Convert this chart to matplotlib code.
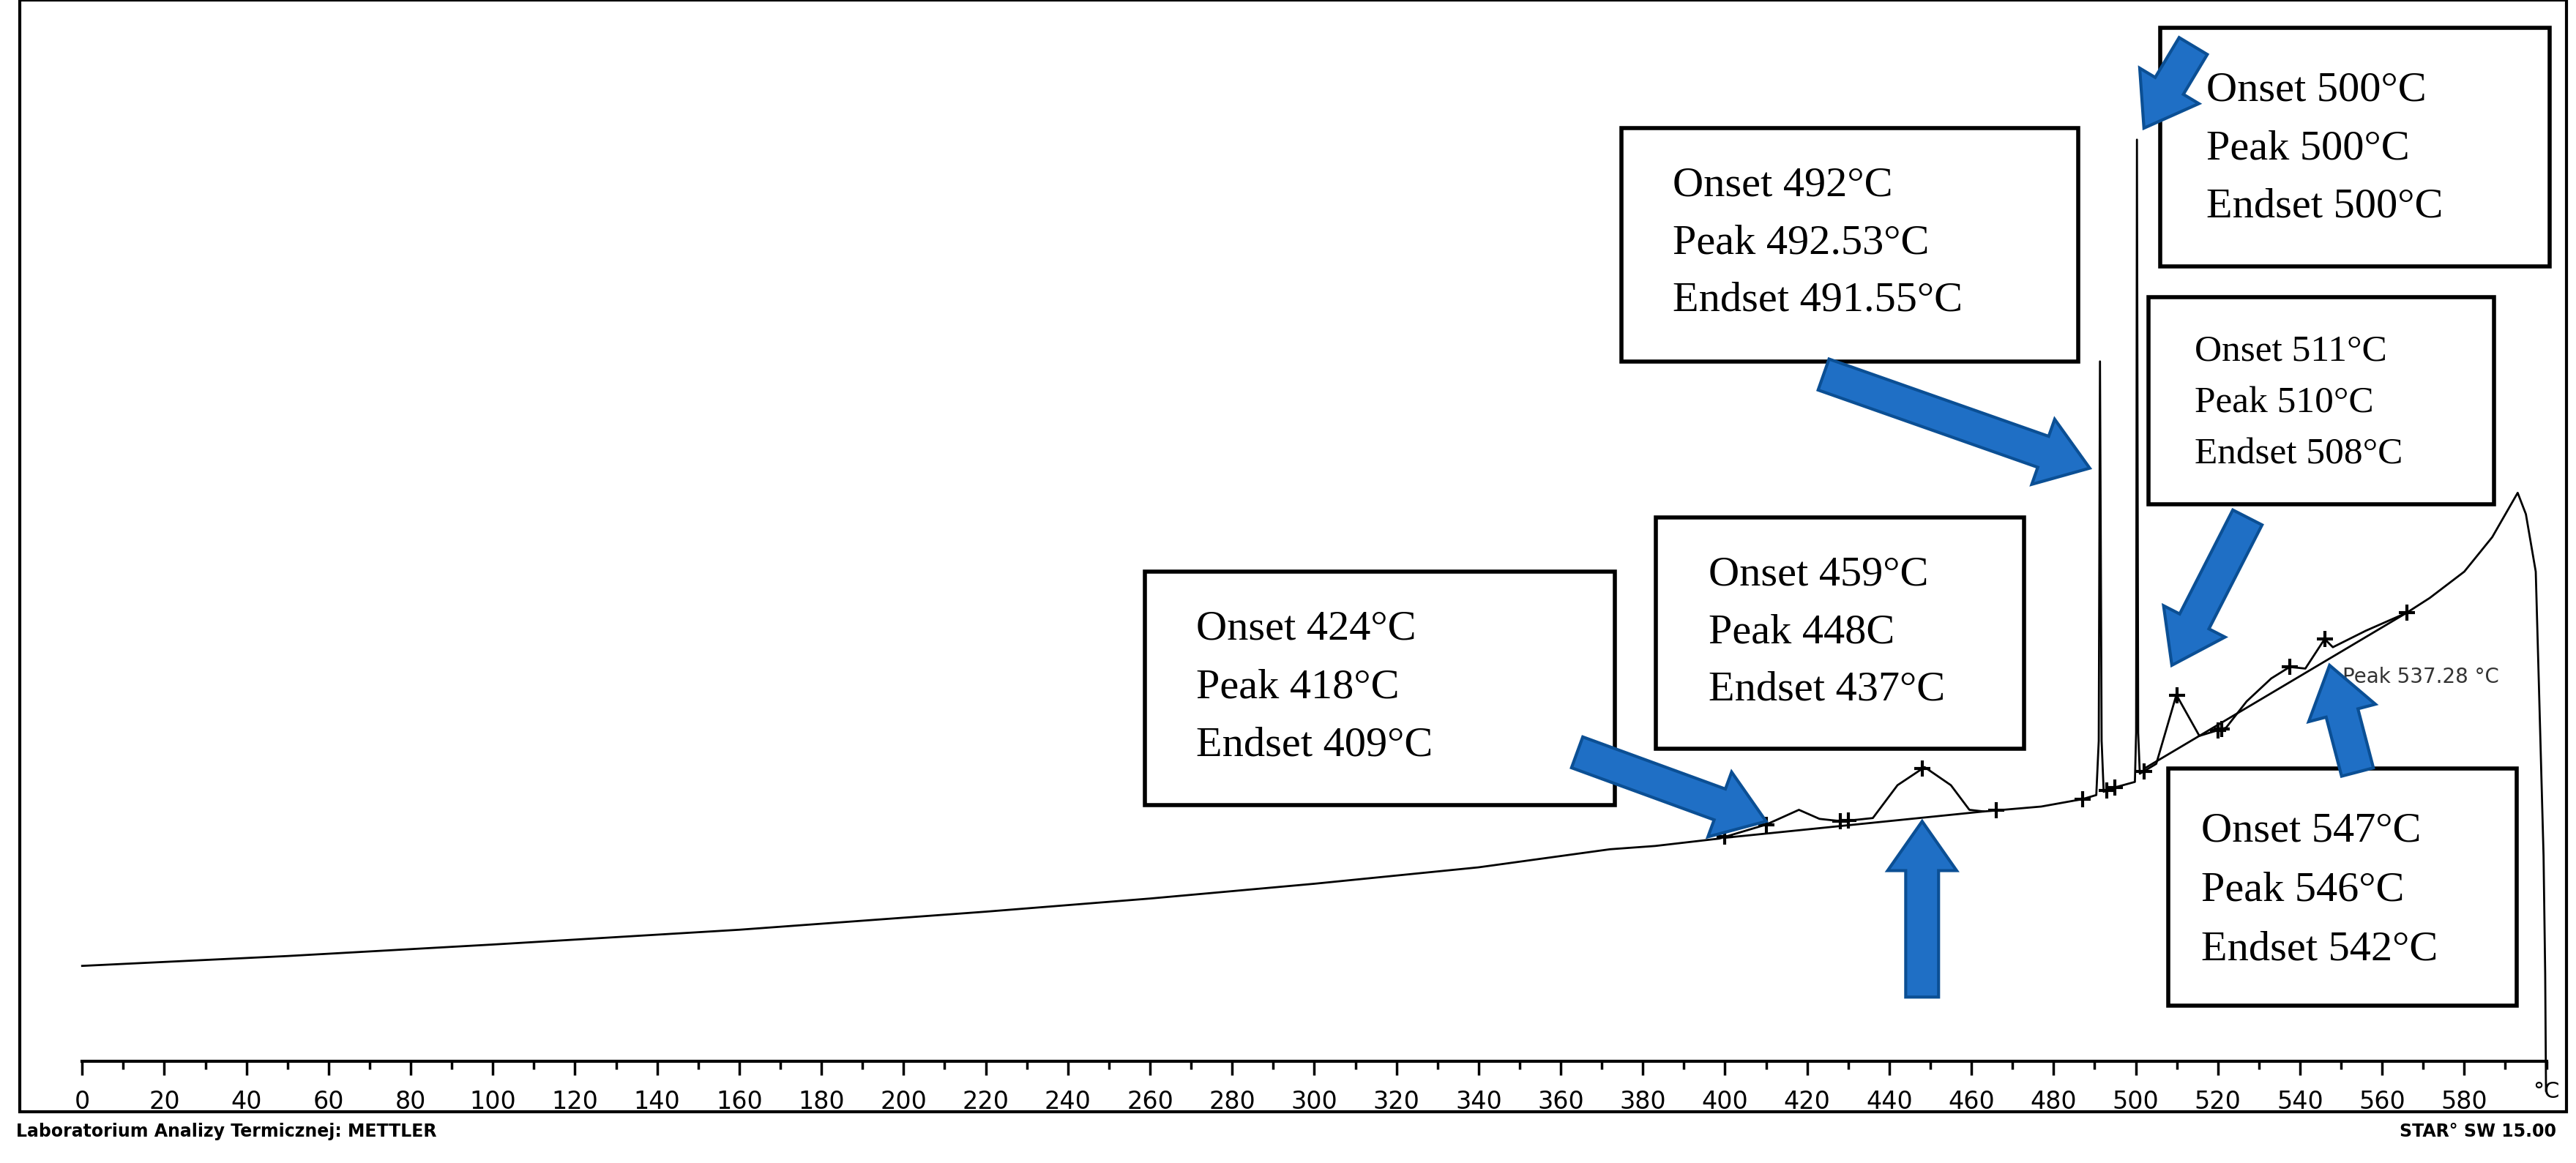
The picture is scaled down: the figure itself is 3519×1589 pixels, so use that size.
import numpy as np
import matplotlib
matplotlib.use("Agg")
import matplotlib.pyplot as plt
from matplotlib.patches import Rectangle, FancyArrow

# ---------------------------------------------------------------- data
temp_C = [0, 50, 100, 160, 220, 260, 300, 340, 372, 383, 398.6, 410, 418, 423,
          428.5, 436, 442, 448.6, 455, 459.5, 463, 477, 487, 490.4, 491.0, 491.3,
          491.7, 492.2, 494, 499.8, 500.1, 500.3, 500.6, 501.0, 503, 505, 509.9, 515.5,
          522, 527, 533, 537.5, 541.3, 546, 548, 556, 566, 571.6, 580, 586.8, 593,
          595, 597.4, 598.2, 599.3, 599.7, 599.9]
heat_flow = [58, 64, 71, 80, 91, 99, 108, 118, 129, 131, 135.5, 144, 153, 147.5,
             146, 148, 168, 179, 168, 153, 152, 155, 159.5, 162, 195, 426,
             195, 164, 166, 170, 200, 561, 200, 175, 178, 181, 223, 198,
             203, 219, 233, 240, 239, 257, 252, 262, 273, 282, 298, 319, 346,
             333, 298, 226, 125, 53, -18]
base1_T = [400, 463]
base1_h = [136, 152]
base2_T = [502, 566]
base2_h = [178, 273]
mark_T = [400, 410, 428, 430, 448, 466, 487, 493, 495, 502, 510, 520, 521,
          537.5, 546, 566]

box_texts = [
    ["Onset 424°C", "Peak 418°C", "Endset 409°C"],
    ["Onset 459°C", "Peak 448C", "Endset 437°C"],
    ["Onset 492°C", "Peak 492.53°C", "Endset 491.55°C"],
    ["Onset 500°C", "Peak 500°C", "Endset 500°C"],
    ["Onset 511°C", "Peak 510°C", "Endset 508°C"],
    ["Onset 547°C", "Peak 546°C", "Endset 542°C"],
]

# ---------------------------------------------------------------- figure
fig = plt.figure(figsize=(35.19, 15.89), dpi=100)
W, H = 1568, 708  # layout grid (reference-scaled)

ax = fig.add_axes([12 / W, 1 - 677 / H, 1550 / W, 677 / H])
ax.set_xlim(-15.2, 604.8)
ax.set_ylim(-31, 646)
ax.plot(temp_C, heat_flow, color="black", lw=2)
ax.plot(base1_T, base1_h, color="black", lw=2)
ax.plot(base2_T, base2_h, color="black", lw=2)
ax.plot(mark_T, np.interp(mark_T, temp_C, heat_flow), "k+", ms=16, mew=3)

for s in ["top", "left", "right"]:
    ax.spines[s].set_visible(False)
ax.spines["bottom"].set_position(("data", 0))
ax.spines["bottom"].set_bounds(0, 600)
ax.spines["bottom"].set_linewidth(3)
ax.set_yticks([])
ax.set_xticks(np.arange(0, 581, 20))
ax.set_xticks(np.arange(0, 601, 10), minor=True)
ax.tick_params(axis="x", which="major", length=14, width=2.5, labelsize=24, pad=14)
ax.tick_params(axis="x", which="minor", length=8, width=2.5)
for lbl in ax.get_xticklabels():
    lbl.set_fontfamily("DejaVu Sans")
ax.text(600, -12, "°C", ha="center", va="top", fontsize=22)
ax.text(550.4, 234, "Peak 537.28 °C", fontsize=20, color="#333333", va="center")

# ---------------------------------------------------------------- overlay
ov = fig.add_axes([0, 0, 1, 1], zorder=5)
ov.set_xlim(0, W)
ov.set_ylim(H, 0)
ov.axis("off")
ov.patch.set_alpha(0)

ov.add_patch(Rectangle((12, 0), 1550, 677, fill=False, lw=3, ec="black"))

boxes = [  # x0, y0, x1, y1, text x, first line y, line step, fontsize
    (697, 348, 983, 490, 728, 383, 35.5, 42),
    (1008, 315, 1232, 456, 1040, 350, 35, 42),
    (987, 78, 1265, 220, 1018, 113, 35, 42),
    (1315, 17, 1552, 162, 1343, 55, 35.5, 42),
    (1308, 181, 1518, 307, 1336, 214, 31.5, 37),
    (1320, 468, 1532, 612, 1340, 506, 36, 42),
]
for (x0, y0, x1, y1, tx, ty, dy, fs), lines in zip(boxes, box_texts):
    ov.add_patch(Rectangle((x0, y0), x1 - x0, y1 - y0, fc="white", ec="black", lw=4, zorder=3))
    for i, t in enumerate(lines):
        ov.text(tx, ty + i * dy, t, fontsize=fs, family="Liberation Serif",
                va="center", ha="left", zorder=4)

arrows = [
    (960, 458, 1075, 500),
    (1170, 607, 1170, 500),
    (1110, 228, 1272, 285),
    (1335, 28, 1305, 78),
    (1368, 315, 1322, 405),
    (1435, 470, 1418, 405),
]
for x0, y0, x1, y1 in arrows:
    ov.add_patch(FancyArrow(x0, y0, x1 - x0, y1 - y0, width=20, head_width=42,
                            head_length=30, length_includes_head=True,
                            fc="#1f6fc5", ec="#0b4f94", lw=3, zorder=6))

ov.text(10, 689, "Laboratorium Analizy Termicznej: METTLER", fontsize=17,
        fontweight="bold", va="center", ha="left")
ov.text(1556, 689, "STAR° SW 15.00", fontsize=17, fontweight="bold",
        va="center", ha="right")

fig.savefig("out.png", dpi=100)
